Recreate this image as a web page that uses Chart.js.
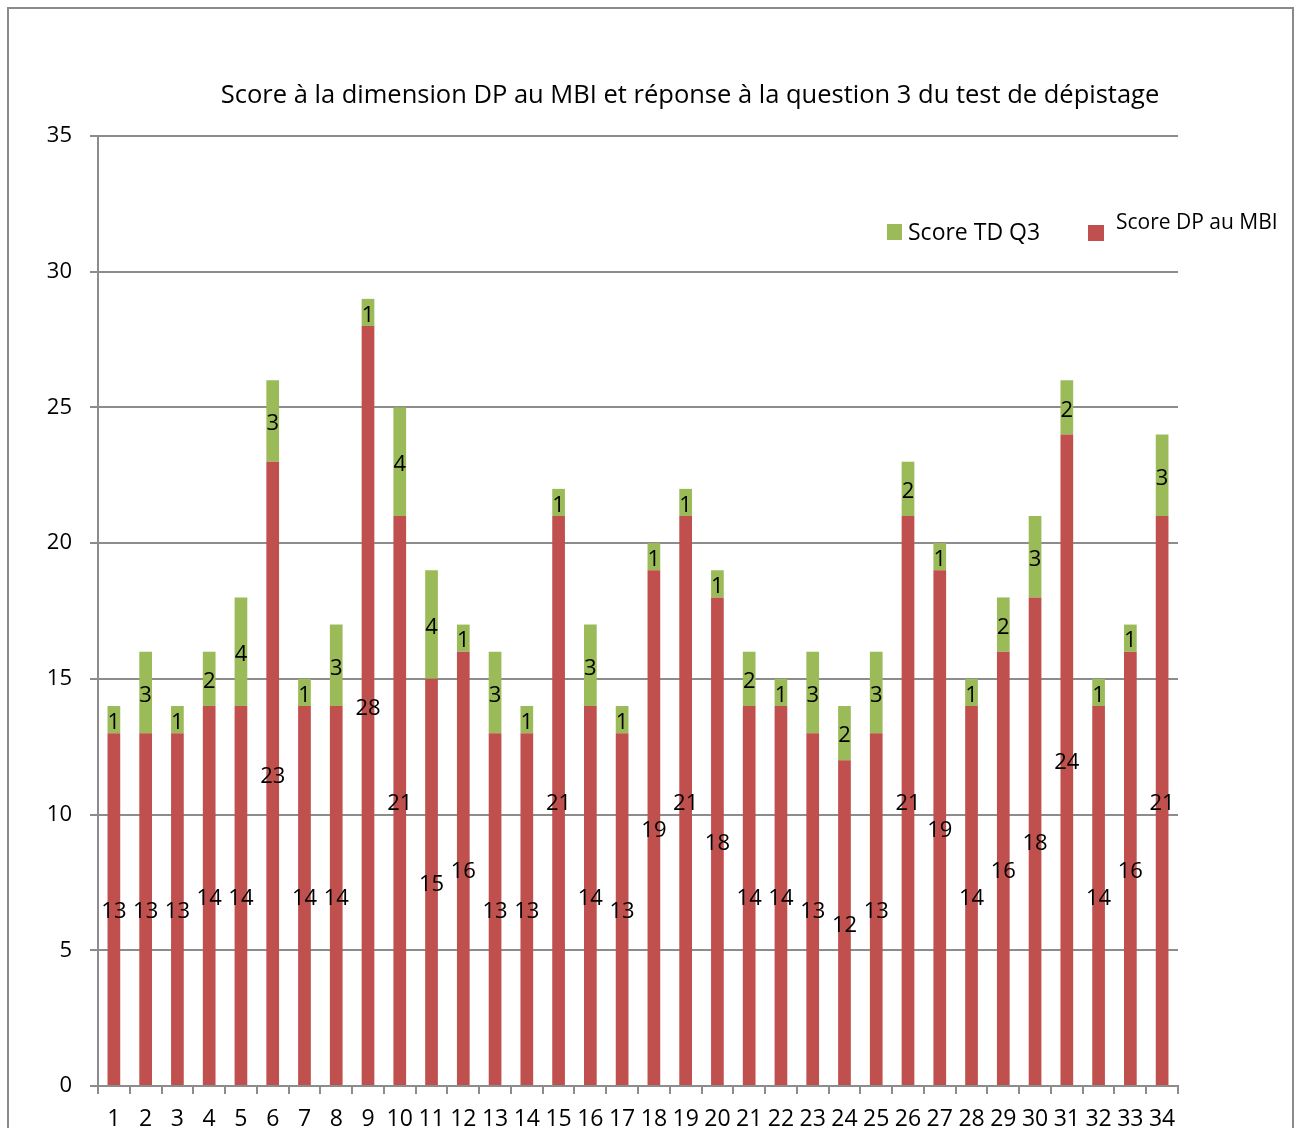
<!DOCTYPE html>
<html>
<head>
<meta charset="utf-8">
<script src="https://cdn.jsdelivr.net/npm/chart.js@4.4.1/dist/chart.umd.min.js"></script>
<style>
  html, body { margin: 0; padding: 0; background: #fff; height: 1128px; overflow: hidden; }
  #wrap { position: relative; width: 1301px; height: 1128px; overflow: hidden; }
  #frame { position: absolute; left: 7px; top: 7px; width: 1283px; height: 1200px; border: 2px solid #8a8a8a; }
  canvas { position: absolute; left: 0; top: 0; }
</style>
</head>
<body>
<div id="wrap">
  <div id="frame"></div>
  <canvas id="chart" width="1301" height="1160"></canvas>
</div>
<script>
const categories = ['1','2','3','4','5','6','7','8','9','10','11','12','13','14','15','16','17',
  '18','19','20','21','22','23','24','25','26','27','28','29','30','31','32','33','34'];
const scoreDP = [13,13,13,14,14,23,14,14,28,21,15,16,13,13,21,14,13,19,21,18,14,14,13,12,13,21,19,14,16,18,24,14,16,21];
const scoreTD = [1,3,1,2,4,3,1,3,1,4,4,1,3,1,1,3,1,1,1,1,2,1,3,2,3,2,1,1,2,3,2,1,1,3];
const yTicks = [0,5,10,15,20,25,30,35];

const FONT = "'Open Sans', sans-serif";
const gridGray = '#8c8c8c';

// étiquettes de valeur au centre de chaque segment
const valueLabels = {
    id: 'valueLabels',
    afterDatasetsDraw(chart) {
        const ctx = chart.ctx;
        ctx.save();
        ctx.font = '22px ' + FONT;
        ctx.fillStyle = '#000';
        ctx.textAlign = 'center';
        ctx.textBaseline = 'middle';
        chart.data.datasets.forEach((ds, i) => {
            chart.getDatasetMeta(i).data.forEach((bar, j) => {
                const y = (bar.y + bar.base) / 2 + 3;
                ctx.fillText(String(ds.data[j]), bar.x, y);
            });
        });
        ctx.restore();
    }
};

// titre + légende placés comme dans l'original
const titleLegend = {
    id: 'titleLegend',
    afterDraw(chart) {
        const ctx = chart.ctx;
        ctx.save();
        ctx.fillStyle = '#000';
        ctx.textBaseline = 'middle';
        ctx.textAlign = 'center';
        ctx.font = '25.5px ' + FONT;
        ctx.fillText('Score à la dimension DP au MBI et réponse à la question 3 du test de dépistage', 690, 96);

        const ds = chart.data.datasets;
        ctx.textAlign = 'left';
        // Score TD Q3
        ctx.fillStyle = ds[1].backgroundColor;
        ctx.fillRect(887, 224, 15, 16);
        ctx.fillStyle = '#000';
        ctx.font = '23px ' + FONT;
        ctx.fillText(ds[1].label, 908, 233);
        // Score DP au MBI
        ctx.fillStyle = ds[0].backgroundColor;
        ctx.fillRect(1088, 225, 16, 16);
        ctx.fillStyle = '#000';
        ctx.font = '21px ' + FONT;
        ctx.fillText(ds[0].label, 1116, 223);
        ctx.restore();
    }
};

new Chart(document.getElementById('chart'), {
    type: 'bar',
    data: {
        labels: categories,
        datasets: [
            {
                label: 'Score DP au MBI',
                data: scoreDP,
                backgroundColor: '#C0504D',
                barPercentage: 0.4,
                categoryPercentage: 1.0
            },
            {
                label: 'Score TD Q3',
                data: scoreTD,
                backgroundColor: '#9BBB59',
                barPercentage: 0.4,
                categoryPercentage: 1.0
            }
        ]
    },
    options: {
        responsive: false,
        animation: false,
        devicePixelRatio: 1,
        layout: { padding: { left: 0, top: 136, right: 123, bottom: 0 } },
        plugins: {
            legend: { display: false },
            title: { display: false },
            tooltip: { enabled: false }
        },
        scales: {
            x: {
                stacked: true,
                afterFit: s => { s.height = 1160 - 1086; },
                border: { color: gridGray, width: 2 },
                grid: { offset: true, drawOnChartArea: false, drawTicks: true, tickLength: 8, color: gridGray, lineWidth: 2 },
                ticks: { font: { family: FONT, size: 23 }, color: '#000', padding: 12, maxRotation: 0, autoSkip: false }
            },
            y: {
                stacked: true,
                min: 0,
                max: 35,
                afterFit: s => { s.width = 98; },
                afterBuildTicks: s => { s.ticks = yTicks.map(v => ({ value: v })); },
                border: { color: gridGray, width: 2 },
                grid: { color: gridGray, lineWidth: 2, tickLength: 8 },
                ticks: { font: { family: FONT, size: 22 }, color: '#000', padding: 18 }
            }
        }
    },
    plugins: [valueLabels, titleLegend]
});
</script>
</body>
</html>
